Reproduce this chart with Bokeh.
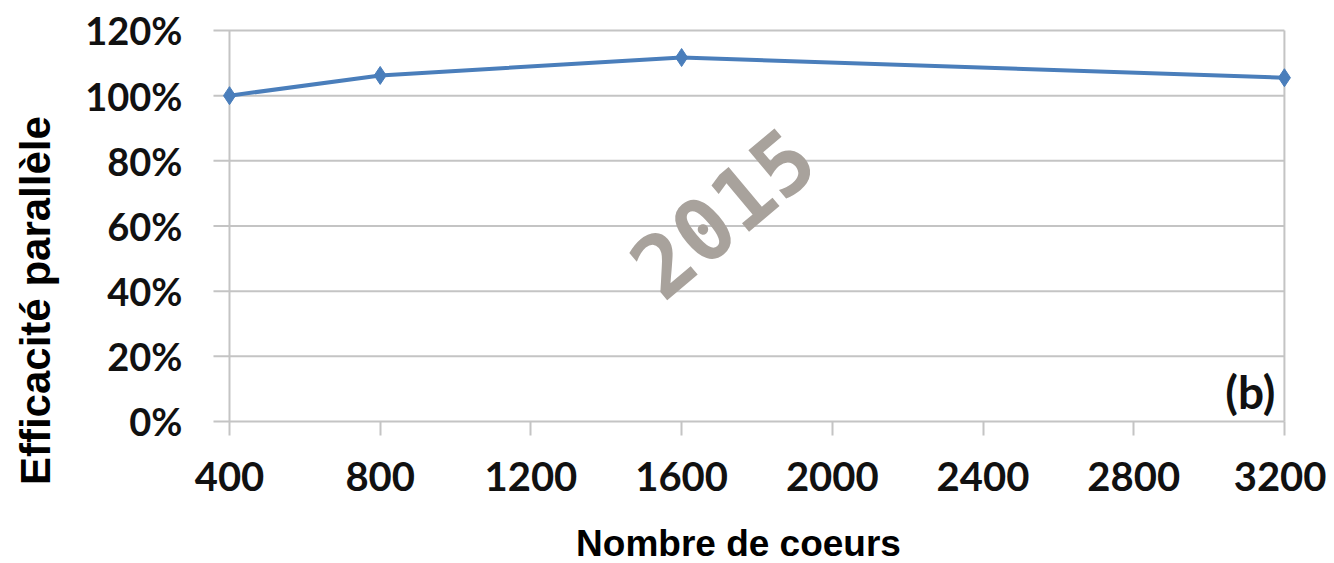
import math
from bokeh.plotting import figure
from bokeh.models import FixedTicker, Range1d, Label
from bokeh.embed import file_html
from bokeh.resources import INLINE

# ---- data ----
CORES = [400, 800, 1600, 3200]
EFFICIENCY = [100.0, 106.2, 111.7, 105.5]
X_TICKS = [400, 800, 1200, 1600, 2000, 2400, 2800, 3200]
Y_TICKS = [0, 20, 40, 60, 80, 100, 120]
Y_TICK_LABELS = ["0%", "20%", "40%", "60%", "80%", "100%", "120%"]
X_TITLE = "Nombre de coeurs"
Y_TITLE = "Efficacité parallèle"
PANEL_TAG = "(b)"
WATERMARK = "2015"

# ---- style ----
LINE_COLOR = "#4a7ebb"
GRID_COLOR = "#c4c4c4"
TICK_FONT = "Lato"
TITLE_FONT = "Liberation Sans"

# frame covers the whole canvas; axes are pinned at data locations
X_START, X_END = -207.8, 3311.7
Y_START, Y_END = -43.58, 129.2
GRID_LEFT = 357.5   # where the gridline stubs start (left of the y axis)

p = figure(width=1326, height=563, output_backend="svg", toolbar_location=None,
           x_range=Range1d(X_START, X_END), y_range=Range1d(Y_START, Y_END),
           min_border=0)
p.outline_line_color = None
p.xgrid.visible = False
p.ygrid.visible = False

# horizontal gridlines, including the 0% base line
p.segment(x0=[GRID_LEFT] * len(Y_TICKS), x1=[X_TICKS[-1]] * len(Y_TICKS),
          y0=Y_TICKS, y1=Y_TICKS, line_color=GRID_COLOR, line_width=2)
# left axis line and right border
p.segment(x0=[X_TICKS[0], X_TICKS[-1]], x1=[X_TICKS[0], X_TICKS[-1]],
          y0=[Y_TICKS[0]] * 2, y1=[Y_TICKS[-1]] * 2,
          line_color=GRID_COLOR, line_width=2)

# series
p.line(CORES, EFFICIENCY, line_color=LINE_COLOR, line_width=4)
p.scatter(CORES, EFFICIENCY, marker="diamond", size=18,
          fill_color=LINE_COLOR, line_color=LINE_COLOR)

# x axis pinned at 0%
xa = p.xaxis[0]
xa.fixed_location = Y_TICKS[0]
xa.ticker = FixedTicker(ticks=X_TICKS)
xa.minor_tick_line_color = None
xa.major_tick_in = 0
xa.major_tick_out = 14
xa.major_tick_line_color = GRID_COLOR
xa.major_tick_line_width = 2
xa.axis_line_color = None
xa.major_label_text_font = TICK_FONT
xa.major_label_text_font_style = "bold"
xa.major_label_text_font_size = "40px"
xa.major_label_text_color = "#111111"
xa.major_label_standoff = 27

# y axis pinned at the first category
ya = p.yaxis[0]
ya.fixed_location = X_TICKS[0]
ya.ticker = FixedTicker(ticks=Y_TICKS)
ya.major_label_overrides = {t: l for t, l in zip(Y_TICKS, Y_TICK_LABELS)}
ya.minor_tick_line_color = None
ya.major_tick_in = 0
ya.major_tick_out = 0
ya.axis_line_color = None
ya.major_label_text_font = TICK_FONT
ya.major_label_text_font_style = "bold"
ya.major_label_text_font_size = "38px"
ya.major_label_text_color = "#111111"
ya.major_label_standoff = 47

# axis titles
p.add_layout(Label(x=1751, y=-37.44, text=X_TITLE, text_align="center",
                   text_baseline="middle", text_font=TITLE_FONT,
                   text_font_style="bold", text_font_size="37px",
                   text_color="#000000"))
p.add_layout(Label(x=-114.9, y=37.1, text=Y_TITLE, angle=math.pi / 2,
                   text_align="center", text_baseline="middle",
                   text_font=TITLE_FONT, text_font_style="bold",
                   text_font_size="42px", text_color="#000000"))

# panel tag
p.add_layout(Label(x=3176, y=9.2, text=PANEL_TAG, text_align="right",
                   text_baseline="middle", text_font=TICK_FONT,
                   text_font_style="bold", text_font_size="46px",
                   text_color="#111111"))
# watermark
p.add_layout(Label(x=1709, y=64.1, text=WATERMARK, angle=math.radians(40),
                   text_align="center", text_baseline="middle",
                   text_font="DejaVu Sans Mono", text_font_style="bold",
                   text_font_size="86px", text_color="#a8a29c"))

open("out.html", "w").write(file_html(p, INLINE))
